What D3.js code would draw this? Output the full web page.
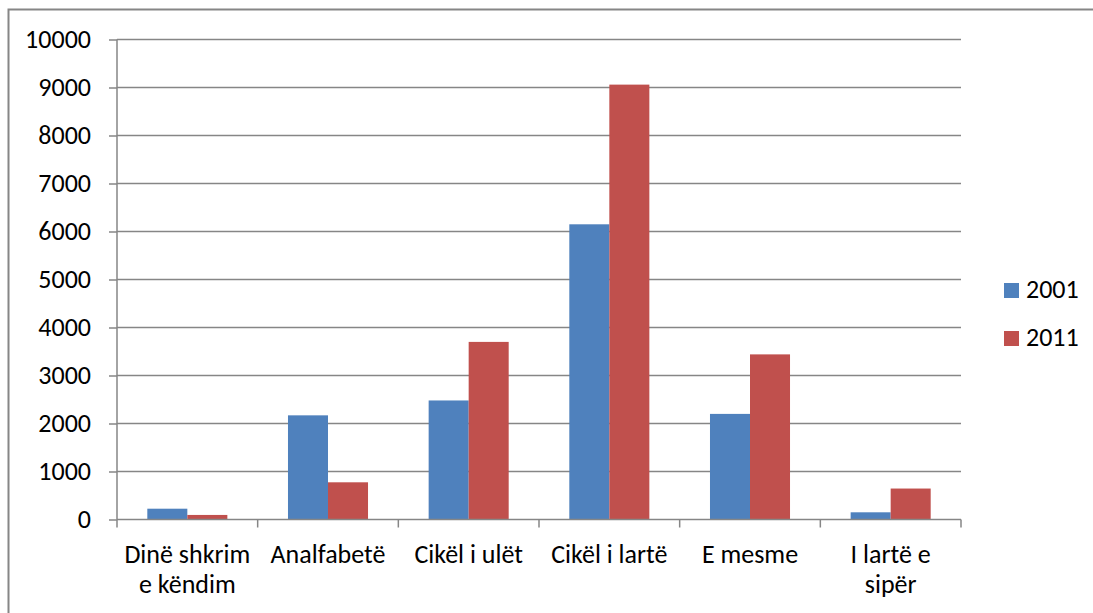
<!DOCTYPE html>
<html>
<head>
<meta charset="utf-8">
<script src="https://cdn.jsdelivr.net/npm/d3@7"></script>
<style>
    html, body { margin: 0; background: #fff; overflow: hidden; }
    svg { display: block; }
    svg text { font-family: Carlito, Lato, "Open Sans", sans-serif; fill: #000; }
</style>
</head>
<body>
<svg id="chart" width="1093" height="613"></svg>
<script>
const categories = [["Dinë shkrim", "e këndim"], ["Analfabetë"], ["Cikël i ulët"], ["Cikël i lartë"], ["E mesme"], ["I lartë e", "sipër"]];
const seriesNames = ["2001", "2011"];
const values2001 = [225, 2170, 2480, 6150, 2200, 150];
const values2011 = [95, 775, 3700, 9060, 3440, 645];
const yTicks = [0, 1000, 2000, 3000, 4000, 5000, 6000, 7000, 8000, 9000, 10000];
const colors = ["#4F81BD", "#C0504D"];

const svg = d3.select("#chart");
const margin = { left: 117, right: 1093 - 961, top: 39.5, bottom: 613 - 519.5 };
const width = 1093, height = 613;
const fontSize = 26;

// outer frame (right and bottom edges fall outside the picture)
svg.append("rect")
    .attr("x", 8.5).attr("y", 9.5)
    .attr("width", 1200).attr("height", 800)
    .attr("fill", "none")
    .attr("stroke", "#868686")
    .attr("stroke-width", 2);

const x0 = d3.scaleBand()
    .domain(d3.range(categories.length))
    .range([margin.left, width - margin.right])
    .paddingInner(0.431)
    .paddingOuter(0.2155);

const x1 = d3.scaleBand()
    .domain(seriesNames)
    .range([0, x0.bandwidth()]);

const y = d3.scaleLinear()
    .domain([0, 10000])
    .range([height - margin.bottom, margin.top]);

// gridlines
svg.append("g")
    .selectAll("line")
    .data(yTicks.slice(1))
    .join("line")
    .attr("x1", margin.left).attr("x2", width - margin.right)
    .attr("y1", d => y(d)).attr("y2", d => y(d))
    .attr("stroke", "#868686")
    .attr("stroke-width", 1.5);

// y axis
const yAxis = svg.append("g")
    .attr("transform", `translate(${margin.left},0)`)
    .call(d3.axisLeft(y).tickValues(yTicks).tickSize(8).tickPadding(18).tickFormat(d3.format("d")));
yAxis.selectAll("line, path").attr("stroke", "#868686").attr("stroke-width", 1.5);
yAxis.select(".domain").attr("d", `M0,${y(0)}V${y(10000)}`);
yAxis.selectAll("text").attr("font-size", fontSize).style("font-family", "Carlito, Lato, sans-serif");

// bars
const data = categories.map((c, i) => ({ i, vals: [values2001[i], values2011[i]] }));
svg.append("g")
    .selectAll("g")
    .data(data)
    .join("g")
    .attr("transform", d => `translate(${x0(d.i)},0)`)
    .selectAll("rect")
    .data(d => d.vals.map((v, k) => ({ key: seriesNames[k], v, k })))
    .join("rect")
    .attr("x", d => x1(d.key))
    .attr("width", x1.bandwidth())
    .attr("y", d => y(d.v))
    .attr("height", d => y(0) - y(d.v))
    .attr("fill", d => colors[d.k]);

// x axis
const step = x0.step();
const xTickPos = d3.range(categories.length + 1).map(i => margin.left + i * step);
const xAxis = svg.append("g");
xAxis.append("line")
    .attr("x1", margin.left).attr("x2", width - margin.right)
    .attr("y1", y(0)).attr("y2", y(0))
    .attr("stroke", "#868686").attr("stroke-width", 1.5);
xAxis.selectAll(".tick")
    .data(xTickPos)
    .join("line")
    .attr("x1", d => d).attr("x2", d => d)
    .attr("y1", y(0)).attr("y2", y(0) + 8)
    .attr("stroke", "#868686").attr("stroke-width", 1.5);

const labels = svg.append("g")
    .selectAll("text")
    .data(categories)
    .join("text")
    .attr("text-anchor", "middle")
    .attr("font-size", fontSize)
    .attr("y", 563);
labels.selectAll("tspan")
    .data((d, i) => d.map(t => ({ t, i })))
    .join("tspan")
    .attr("x", d => x0(d.i) + x0.bandwidth() / 2)
    .attr("dy", (d, j) => j === 0 ? 0 : 30)
    .text(d => d.t);

// legend
const legend = svg.append("g")
    .selectAll("g")
    .data(seriesNames)
    .join("g")
    .attr("transform", (d, i) => `translate(1004,${283 + i * 48})`);
legend.append("rect")
    .attr("width", 15).attr("height", 15)
    .attr("fill", (d, i) => colors[i]);
legend.append("text")
    .attr("x", 22).attr("y", 15)
    .attr("font-size", fontSize)
    .text(d => d);
</script>
</body>
</html>
